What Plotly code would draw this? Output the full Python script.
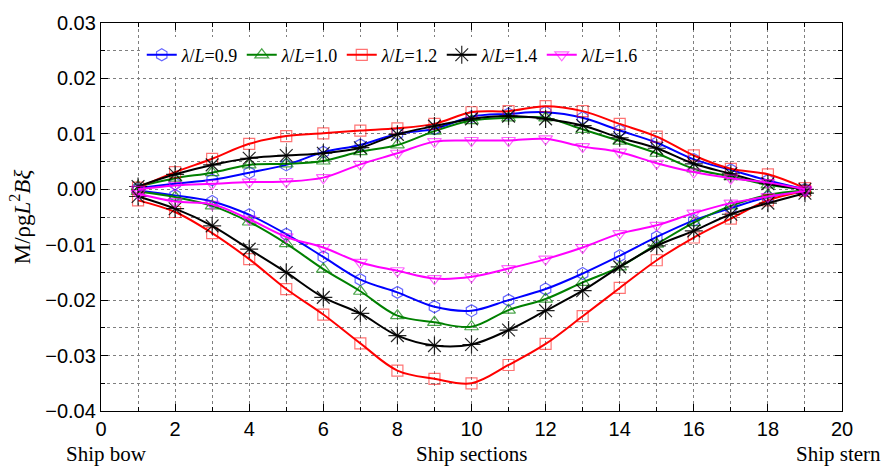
import plotly.graph_objects as go

sections = list(range(1, 20))

labels = ["0.9", "1.0", "1.2", "1.4", "1.6"]

blue_up = [0.0002, 0.0010, 0.0017, 0.0030, 0.0044, 0.0067, 0.0080, 0.0100, 0.0109, 0.0131,
           0.0136, 0.0139, 0.0129, 0.0106, 0.0084, 0.0054, 0.0035, 0.0016, 0.0000]
blue_low = [-0.0002, -0.0011, -0.0022, -0.0046, -0.0081, -0.0122, -0.0163, -0.0186, -0.0212, -0.0219,
            -0.0200, -0.0180, -0.0152, -0.0120, -0.0086, -0.0056, -0.0034, -0.0014, -0.0002]

green_up = [0.0005, 0.0020, 0.0030, 0.0044, 0.0046, 0.0051, 0.0068, 0.0080, 0.0105, 0.0124,
            0.0129, 0.0129, 0.0108, 0.0087, 0.0065, 0.0037, 0.0023, 0.0008, 0.0000]
green_low = [-0.0004, -0.0014, -0.0030, -0.0059, -0.0098, -0.0144, -0.0184, -0.0228, -0.0240, -0.0248,
             -0.0218, -0.0198, -0.0168, -0.0140, -0.0099, -0.0060, -0.0030, -0.0010, -0.0002]

red_up = [0.0003, 0.0031, 0.0055, 0.0082, 0.0096, 0.0101, 0.0106, 0.0110, 0.0118, 0.0139,
          0.0141, 0.0150, 0.0141, 0.0118, 0.0095, 0.0061, 0.0037, 0.0027, 0.0002]
red_low = [-0.0020, -0.0041, -0.0079, -0.0126, -0.0180, -0.0226, -0.0278, -0.0327, -0.0342, -0.0350,
           -0.0317, -0.0279, -0.0229, -0.0178, -0.0128, -0.0087, -0.0053, -0.0020, -0.0003]

black_up = [0.0005, 0.0027, 0.0044, 0.0056, 0.0061, 0.0065, 0.0075, 0.0099, 0.0114, 0.0127,
            0.0132, 0.0127, 0.0115, 0.0093, 0.0074, 0.0046, 0.0028, 0.0010, 0.0000]
black_low = [-0.0013, -0.0035, -0.0066, -0.0108, -0.0150, -0.0195, -0.0224, -0.0264, -0.0282, -0.0280,
             -0.0254, -0.0219, -0.0183, -0.0140, -0.0102, -0.0075, -0.0045, -0.0025, -0.0007]

mag_up = [0.0000, 0.0007, 0.0010, 0.0013, 0.0014, 0.0021, 0.0045, 0.0065, 0.0086, 0.0088,
          0.0088, 0.0091, 0.0077, 0.0067, 0.0047, 0.0031, 0.0020, 0.0012, 0.0000]
mag_low = [-0.0008, -0.0022, -0.0027, -0.0054, -0.0086, -0.0105, -0.0132, -0.0147, -0.0161, -0.0158,
           -0.0143, -0.0126, -0.0105, -0.0080, -0.0065, -0.0043, -0.0025, -0.0013, -0.0003]

series = [
    (labels[0], blue_up, blue_low, "#0000FF", "rgba(0,0,255,0.6)", "hexagon-open", 12),
    (labels[1], green_up, green_low, "#008000", "rgba(0,128,0,0.7)", "triangle-up-open", 12),
    (labels[2], red_up, red_low, "#FF0000", "rgba(255,0,0,0.55)", "square-open", 11),
    (labels[3], black_up, black_low, "#000000", "rgba(0,0,0,0.85)", "asterisk-open", 15),
    (labels[4], mag_up, mag_low, "#FF00FF", "rgba(255,0,255,0.6)", "triangle-down-open", 12),
]

fig = go.Figure()
for lab, up, low, col, mcol, sym, size in series:
    for k, vals in enumerate([up, low]):
        fig.add_trace(go.Scatter(
            x=sections, y=vals, mode="lines+markers",
            name=f"<i>λ</i>/<i>L</i>={lab}",
            legendgroup=lab, showlegend=(k == 0),
            line=dict(color=col, width=2, shape="spline"),
            marker=dict(symbol=sym, size=size, color=mcol, line=dict(width=1.2, color=mcol)),
        ))

gridstyle = dict(gridcolor="#7f7f7f", griddash="3px,3px", gridwidth=1)
serif = "Liberation Serif, Times New Roman"

fig.update_layout(
    width=886, height=466,
    margin=dict(l=101, r=44, t=21, b=55),
    paper_bgcolor="white", plot_bgcolor="white",
    font=dict(family="Liberation Sans, Arial", size=20, color="black"),
    showlegend=True,
    legend=dict(
        orientation="h", x=0.055, y=0.965, xanchor="left", yanchor="top",
        bgcolor="white", borderwidth=0,
        font=dict(family=serif, size=18, color="black"),
        itemwidth=30, tracegroupgap=0, entrywidth=55, entrywidthmode="pixels",
    ),
    xaxis=dict(
        range=[0, 20], dtick=2, tick0=0, showgrid=True, **gridstyle,
        ticks="inside", ticklen=7, tickcolor="black", tickwidth=1,
        showline=True, linecolor="black", linewidth=1.3, mirror="ticks",
        zeroline=False,
        tickfont=dict(family="Liberation Sans, Arial", size=20),
        minor=dict(dtick=1, ticks="inside", ticklen=4, tickcolor="black", showgrid=True, **gridstyle),
    ),
    yaxis=dict(
        range=[-0.04, 0.03], dtick=0.01, tick0=0, tickformat=".2f", showgrid=True, **gridstyle,
        ticks="inside", ticklen=7, tickcolor="black", tickwidth=1,
        showline=True, linecolor="black", linewidth=1.3, mirror="ticks",
        zeroline=False,
        tickfont=dict(family="Liberation Sans, Arial", size=20),
        minor=dict(dtick=0.005, ticks="inside", ticklen=4, tickcolor="black", showgrid=True, **gridstyle),
        title=dict(text="M/ρg<i>L</i><sup>2</sup><i>Bξ</i>",
                   font=dict(family=serif, size=23), standoff=8),
    ),
    annotations=[
        dict(text="Ship bow", xref="paper", yref="paper", x=0.007, y=0, yshift=-43,
             xanchor="center", yanchor="middle", showarrow=False,
             font=dict(family=serif, size=21)),
        dict(text="Ship sections", xref="paper", yref="paper", x=0.5, y=0, yshift=-43,
             xanchor="center", yanchor="middle", showarrow=False,
             font=dict(family=serif, size=21)),
        dict(text="Ship stern", xref="paper", yref="paper", x=0.9955, y=0, yshift=-43,
             xanchor="center", yanchor="middle", showarrow=False,
             font=dict(family=serif, size=21)),
    ],
)

fig.write_html("out.html", config={"displayModeBar": False},
               post_script="document.body.style.margin='0';document.body.style.overflow='hidden';")
